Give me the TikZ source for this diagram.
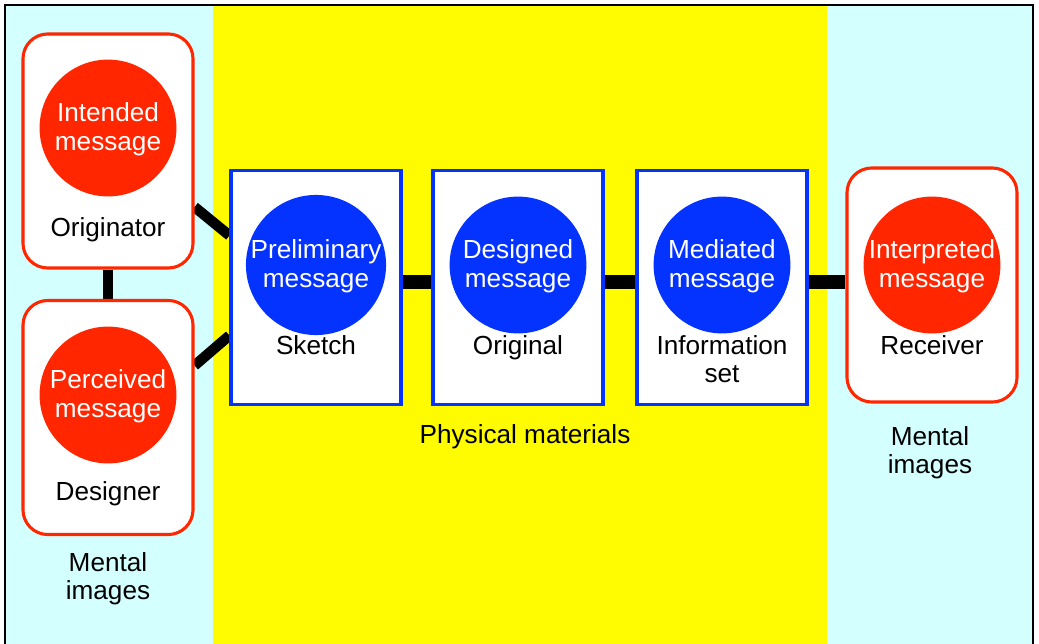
\documentclass[tikz,border=0pt]{standalone}
\usepackage{fontspec}
\setmainfont{Liberation Sans}
\usetikzlibrary{positioning,calc}
\definecolor{msgred}{RGB}{255,38,0}
\definecolor{msgblue}{RGB}{4,51,255}
\definecolor{mentalcyan}{RGB}{212,255,255}
\definecolor{physyellow}{RGB}{255,251,0}
\pgfdeclarelayer{panel}
\pgfdeclarelayer{link}
\pgfsetlayers{panel,link,main}
\tikzset{
  txt/.style={font=\fontsize{18.6pt}{20.4pt}\selectfont, align=center, inner sep=0pt},
  lbl/.style={txt, anchor=base},
  caption/.style={txt, text depth=0pt},
  mentalbox/.style={draw=msgred, fill=white, line width=2.2pt, rounded corners=0.62cm,
    minimum width=4.25cm, minimum height=5.85cm, inner sep=0pt},
  physbox/.style={draw=msgblue, fill=white, line width=2.2pt,
    minimum width=4.25cm, minimum height=5.85cm, inner sep=0pt},
  redmsg/.style={txt, circle, fill=msgred, text=white, text depth=2pt, minimum size=3.42cm},
  bluemsg/.style={txt, circle, fill=msgblue, text=white, text depth=2pt, minimum size=3.42cm},
  link/.style={line width=0.33cm},
  thinlink/.style={line width=0.26cm}
}
\begin{document}
\begin{tikzpicture}[x=0.025cm, y=-0.025cm]
            \useasboundingbox (0,0) rectangle (1039,644);
            % Background panels
            \begin{pgfonlayer}{panel}
                \fill[mentalcyan] (5,5) rectangle (213,644);
                \fill[physyellow] (213,5) rectangle (827,644);
                \fill[mentalcyan] (827,5) rectangle (1033,644);
                \draw[line width=1.4pt] (5,644) -- (5,5) -- (1033,5) -- (1033,644);
            \end{pgfonlayer}
            % Mental images of the originator and the designer
            \node[mentalbox] (orig) at (108,151) {};
            \node[redmsg] (intended) at (108,128) {Intended\\message};
            \node[lbl] (origtxt) at (108,236) {Originator};
            \node[mentalbox] (designer) at (108,417.5) {};
            \node[redmsg] (perceived) at (108,395) {Perceived\\message};
            \node[lbl] (designertxt) at (108,500) {Designer};
            % Physical materials
            \node[physbox] (sketch) at (316,287.5) {};
            \node[bluemsg] (preliminary) at (316,265) {Preliminary\\message};
            \node[lbl] (sketchtxt) at (316,354) {Sketch};
            \node[physbox] (original) at (518,287.5) {};
            \node[bluemsg] (designed) at (518,265) {Designed\\message};
            \node[lbl] (originaltxt) at (518,354) {Original};
            \node[physbox] (infoset) at (722,287.5) {};
            \node[bluemsg] (mediated) at (722,265) {Mediated\\message};
            \node[caption] (infosettxt) at (722,359) {Information\\set};
            % Mental image of the receiver
            \node[mentalbox] (receiver) at (932,285) {};
            \node[redmsg] (interpreted) at (932,265) {Interpreted\\message};
            \node[lbl] (receivertxt) at (932,354) {Receiver};
            % Captions
            \node[lbl] (physcap) at (525,443) {Physical materials};
            \node[caption] (rightcap) at (930,450) {Mental\\images};
            \node[caption] (leftcap) at (108,576) {Mental\\images};
            % Drawing the links
            \begin{pgfonlayer}{link}
                \draw[thinlink] (orig.south) -- (designer.north);
                \draw[thinlink] ($(orig.east)+(0,56)$) -- ($(sketch.west)+(0,-52)$);
                \draw[thinlink] ($(designer.east)+(0,-52)$) -- ($(sketch.west)+(0,48)$);
                \draw[link] ($(sketch.east)+(0,-5.5)$) -- ($(original.west)+(0,-5.5)$);
                \draw[link] ($(original.east)+(0,-5.5)$) -- ($(infoset.west)+(0,-5.5)$);
                \draw[link] ($(infoset.east)+(0,-5.5)$) -- ($(receiver.west)+(0,-3)$);
            \end{pgfonlayer}
        \end{tikzpicture}
\end{document}
